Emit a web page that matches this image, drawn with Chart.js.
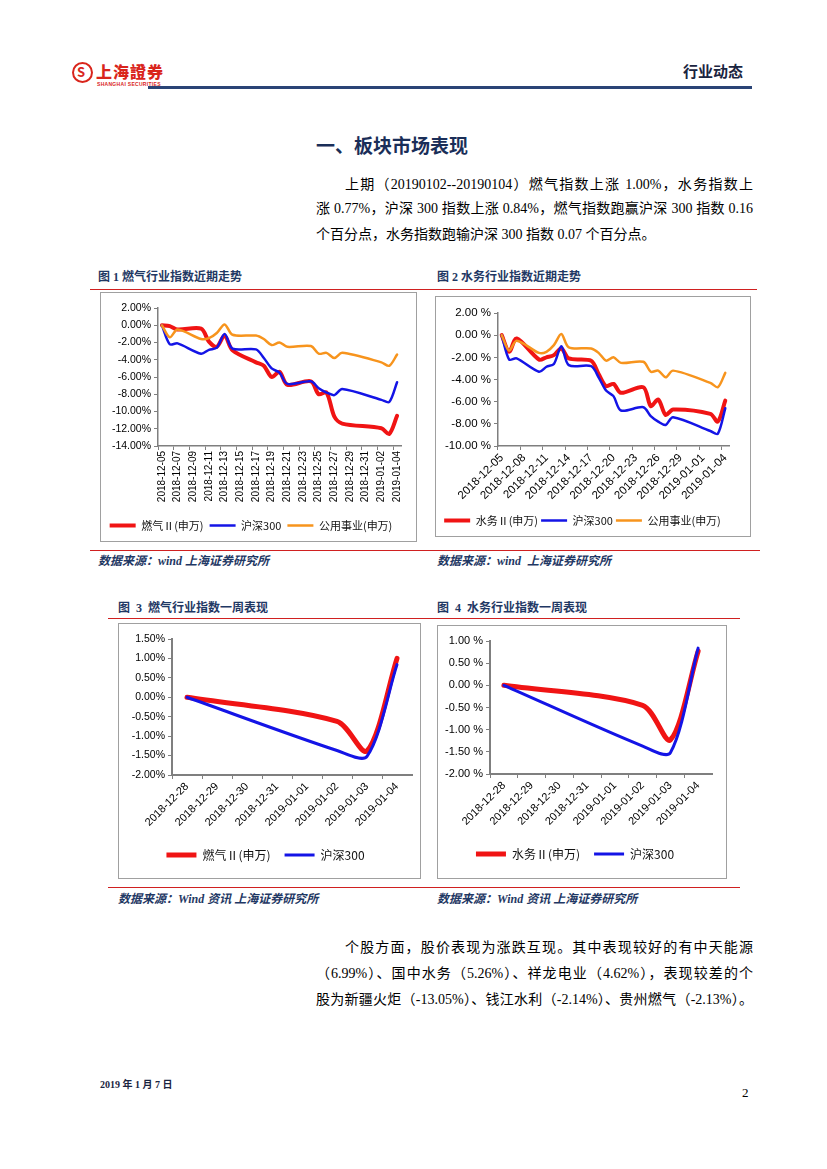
<!DOCTYPE html>
<html>
<head>
<meta charset="utf-8">
<script src="https://cdn.jsdelivr.net/npm/chart.js@4.4.1/dist/chart.umd.min.js"></script>
<style>
body { margin: 0; background: #fff; }
#page { position: relative; width: 827px; height: 1169px; overflow: hidden; background: #fff;
        font-family: "Liberation Serif", "Noto Sans CJK SC", serif; color: #000; }
.abs { position: absolute; white-space: nowrap; }
.txt { font-size: 14px; line-height: 20px; height: 20px; }
.just { text-align: justify; text-align-last: justify; white-space: normal; }
.figt { font-family: "Liberation Serif", "Noto Sans CJK SC"; font-weight: 700; font-size: 12px; color: #1f3864; line-height: 16px; }
.src { font-family: "Liberation Serif", "Noto Sans CJK SC"; font-weight: 700; font-style: italic; font-size: 12px; color: #1f3864; line-height: 16px; }
.rline { position: absolute; height: 1px; background: #d02020; }
.box { position: absolute; box-sizing: border-box; border: 1px solid #a0a0a0; }
.box div { position: absolute; left: 0; top: 0; right: 0; bottom: 0; }
</style>
</head>
<body>
<div id="page">
  <!-- header -->
  <div class="abs" style="left:72px;top:62px;width:17px;height:17px;border:2.5px solid #d9251c;border-radius:50%;"></div>
  <div class="abs" style="left:77px;top:62px;font:700 13px 'Noto Sans CJK TC';color:#d9251c;line-height:20px;">S</div>
  <div class="abs" style="left:96px;top:61px;font:900 16px 'Noto Sans CJK TC';color:#d9251c;line-height:20px;letter-spacing:1px;">上海證券</div>
  <div class="abs" style="left:97px;top:81px;font:700 5px 'Liberation Sans';color:#d9251c;line-height:6px;letter-spacing:0.3px;">SHANGHAI SECURITIES</div>
  <div class="abs" style="left:683px;top:61px;font:700 15px 'Noto Sans CJK SC';color:#1a2440;line-height:20px;">行业动态</div>
  <div class="abs" style="left:148px;top:86px;width:604px;height:3px;background:#2a4476;"></div>

  <div class="abs" style="left:316px;top:132px;font:700 19px 'Noto Sans CJK SC';color:#1a2e58;line-height:26px;">一、板块市场表现</div>

  <div class="abs txt just" style="left:345px;top:175px;width:408px;">上期（20190102--20190104）燃气指数上涨 1.00%，水务指数上</div>
  <div class="abs txt just" style="left:316px;top:199px;width:437px;">涨 0.77%，沪深 300 指数上涨 0.84%，燃气指数跑赢沪深 300 指数 0.16</div>
  <div class="abs txt" style="left:316px;top:225px;">个百分点，水务指数跑输沪深 300 指数 0.07 个百分点。</div>

  <!-- figure 1 / 2 -->
  <div class="abs figt" style="left:98px;top:269px;">图 1 燃气行业指数近期走势</div>
  <div class="abs figt" style="left:437px;top:269px;">图 2 水务行业指数近期走势</div>
  <div class="rline" style="left:90px;top:289px;width:667px;"></div>
  <div class="box" style="left:100px;top:292px;width:317px;height:250px;"><div><canvas id="c1"></canvas></div></div>
  <div class="box" style="left:435px;top:296px;width:316px;height:241px;"><div><canvas id="c2"></canvas></div></div>
  <div class="rline" style="left:90px;top:550px;width:670px;"></div>
  <div class="abs src" style="left:98px;top:553px;">数据来源：wind 上海证券研究所</div>
  <div class="abs src" style="left:437px;top:553px;">数据来源：wind&nbsp; 上海证券研究所</div>

  <!-- figure 3 / 4 -->
  <div class="abs figt" style="left:118px;top:600px;">图&nbsp; 3&nbsp; 燃气行业指数一周表现</div>
  <div class="abs figt" style="left:437px;top:600px;">图&nbsp; 4&nbsp; 水务行业指数一周表现</div>
  <div class="rline" style="left:108px;top:618px;width:632px;"></div>
  <div class="box" style="left:118px;top:623px;width:303px;height:256px;"><div><canvas id="c3"></canvas></div></div>
  <div class="box" style="left:437px;top:625px;width:290px;height:254px;"><div><canvas id="c4"></canvas></div></div>
  <div class="rline" style="left:108px;top:887px;width:632px;"></div>
  <div class="abs src" style="left:118px;top:891px;">数据来源：Wind 资讯 上海证券研究所</div>
  <div class="abs src" style="left:437px;top:891px;">数据来源：Wind 资讯 上海证券研究所</div>

  <div class="abs txt just" style="left:345px;top:938px;width:408px;">个股方面，股价表现为涨跌互现。其中表现较好的有中天能源</div>
  <div class="abs txt just" style="left:316px;top:964px;width:437px;">（6.99%）、国中水务（5.26%）、祥龙电业（4.62%），表现较差的个</div>
  <div class="abs txt just" style="left:316px;top:990px;width:437px;">股为新疆火炬（-13.05%）、钱江水利（-2.14%）、贵州燃气（-2.13%）。</div>

  <div class="abs" style="left:100px;top:1078px;font:700 10px 'Liberation Serif','Noto Sans CJK SC';line-height:14px;color:#1a2440;">2019 年 1 月 7 日</div>
  <div class="abs" style="left:742px;top:1085px;font:13px 'Liberation Serif';line-height:16px;">2</div>
</div>

<script>
// calendar days shown on the trend charts (non-trading days are null)
var dayLabels = ['2018-12-05','2018-12-06','2018-12-07','2018-12-08','2018-12-09','2018-12-10',
    '2018-12-11','2018-12-12','2018-12-13','2018-12-14','2018-12-15','2018-12-16','2018-12-17',
    '2018-12-18','2018-12-19','2018-12-20','2018-12-21','2018-12-22','2018-12-23','2018-12-24',
    '2018-12-25','2018-12-26','2018-12-27','2018-12-28','2018-12-29','2018-12-30','2018-12-31',
    '2019-01-01','2019-01-02','2019-01-03','2019-01-04'];

var gasTrend   = [0, -0.1, -0.5, null, null, -0.4, -1.9, -2.5, -1.2, -2.9, null, null, -4.3, -4.7, -6.0, -5.4, -6.9,
                  null, null, -6.5, -8.0, -7.8, -10.6, -11.4, null, null, null, null, -11.95, -12.6, -10.5];
var waterTrend = [0, -1.5, -0.3, null, null, -2.2, -2.0, -1.8, -1.2, -2.1, null, null, -2.3, -3.5, -4.6, -4.4, -5.2,
                  null, null, -4.7, -6.4, -5.8, -7.2, -6.7, null, null, null, null, -7.1, -7.8, -5.9];
var hs300Trend = [0, -2.2, -2.1, null, null, -3.3, -2.85, -2.6, -1.0, -2.7, null, null, -2.8, -3.8, -5.0, -5.5, -6.8,
                  null, null, -6.5, -7.3, -7.8, -8.1, -7.4, null, null, null, null, -8.65, -8.9, -6.6];
var utilTrend  = [0, -1.4, -0.5, null, null, -1.6, -1.5, -0.9, 0.1, -1.1, null, null, -1.2, -1.6, -2.3, -2.0, -2.5,
                  null, null, -2.4, -3.3, -3.2, -3.8, -3.2, null, null, null, null, -4.3, -4.7, -3.4];

// one-week performance
var weekLabels = ['2018-12-28','2018-12-29','2018-12-30','2018-12-31','2019-01-01','2019-01-02','2019-01-03','2019-01-04'];
var gasWeek    = [0, null, null, null, null, -0.62, -1.38, 1.00];
var waterWeek  = [0, null, null, null, null, -0.45, -1.23, 0.77];
var hs300Week  = [0, null, null, null, null, -1.37, -1.52, 0.84];

var RED = '#f01414', BLUE = '#1414e6', ORANGE = '#f7941d';

Chart.defaults.color = '#000';
Chart.defaults.font.family = '"Liberation Sans", Arial, sans-serif';

function series(label, data, color, width, order, tension) {
    return {
        label: label, data: data, borderColor: color, backgroundColor: color,
        borderWidth: width, pointRadius: 0, pointHoverRadius: 0, fill: false,
        spanGaps: true, tension: tension, order: order,
        borderCapStyle: 'round', borderJoinStyle: 'round'
    };
}

function lineChart(id, labels, datasets, o) {
    return new Chart(document.getElementById(id), {
        type: 'line',
        data: { labels: labels, datasets: datasets },
        options: {
            responsive: true,
            maintainAspectRatio: false,
            animation: false,
            events: [],
            layout: { padding: o.pad },
            plugins: {
                tooltip: { enabled: false },
                legend: {
                    position: 'bottom',
                    labels: {
                        usePointStyle: true, pointStyle: 'line', pointStyleWidth: o.boxW,
                        padding: o.legPad, color: '#111',
                        font: { family: '"Noto Sans CJK SC", sans-serif', size: o.legFont },
                        sort: function(a, b) { return a.datasetIndex - b.datasetIndex; }
                    }
                }
            },
            scales: {
                x: {
                    offset: true,
                    afterFit: function(s) { s.height = o.xH; },
                    border: { display: true, color: '#7f7f7f', width: o.axisW },
                    grid: {
                        drawOnChartArea: false, drawTicks: true, tickLength: 4, offset: true,
                        color: function(c) { return c.index % o.step === 0 ? '#7f7f7f' : 'rgba(0,0,0,0)'; }
                    },
                    ticks: {
                        autoSkip: false, minRotation: o.rot, maxRotation: o.rot, padding: 1,
                        font: { size: o.xFont },
                        callback: function(v, i) { return i % o.step === 0 ? this.getLabelForValue(v) : ''; }
                    }
                },
                y: {
                    min: o.min, max: o.max,
                    afterFit: function(s) { s.width = o.yW; },
                    border: { display: true, color: '#7f7f7f', width: o.axisW },
                    grid: { drawOnChartArea: false, drawTicks: true, tickLength: 4, color: '#7f7f7f' },
                    ticks: {
                        stepSize: o.stepY, padding: 3, font: { size: o.yFont },
                        callback: function(v) { return v.toFixed(2) + o.pct; }
                    }
                }
            }
        }
    });
}

// 图1
lineChart('c1', dayLabels, [
    series('燃气Ⅱ(申万)', gasTrend, RED, 4, 2, 0.3),
    series('沪深300', hs300Trend, BLUE, 2.5, 1, 0.3),
    series('公用事业(申万)', utilTrend, ORANGE, 2.5, 0, 0.3)
], { pad: {left: 0, top: 15, right: 15, bottom: 0}, yW: 57, xH: 68, min: -14, max: 2, stepY: 2,
     rot: 90, step: 2, xFont: 10, yFont: 10.5, legFont: 11, legPad: 6, boxW: 26, axisW: 1.5, pct: '%' });

// 图2
lineChart('c2', dayLabels, [
    series('水务Ⅱ(申万)', waterTrend, RED, 4, 2, 0.3),
    series('沪深300', hs300Trend, BLUE, 2.5, 1, 0.3),
    series('公用事业(申万)', utilTrend, ORANGE, 2.5, 0, 0.3)
], { pad: {left: 0, top: 16, right: 21, bottom: 0}, yW: 62, xH: 66, min: -10, max: 2, stepY: 2,
     rot: 45, step: 3, xFont: 11.5, yFont: 11.5, legFont: 11, legPad: 3, boxW: 26, axisW: 1.5, pct: ' %' });

// 图3
lineChart('c3', weekLabels, [
    series('燃气Ⅱ(申万)', gasWeek, RED, 5, 1, 0.3),
    series('沪深300', hs300Week, BLUE, 3, 0, 0.3)
], { pad: {left: 0, top: 15, right: 8, bottom: 7}, yW: 53, xH: 60, min: -2, max: 1.5, stepY: 0.5,
     rot: 45, step: 1, xFont: 11, yFont: 10.5, legFont: 12, legPad: 14, boxW: 30, axisW: 2, pct: '%' });

// 图4
lineChart('c4', weekLabels, [
    series('水务Ⅱ(申万)', waterWeek, RED, 5, 1, 0.3),
    series('沪深300', hs300Week, BLUE, 3, 0, 0.3)
], { pad: {left: 0, top: 15, right: 14, bottom: 8}, yW: 52, xH: 60, min: -2, max: 1, stepY: 0.5,
     rot: 45, step: 1, xFont: 11, yFont: 11, legFont: 12, legPad: 14, boxW: 30, axisW: 2, pct: ' %' });
</script>
</body>
</html>
